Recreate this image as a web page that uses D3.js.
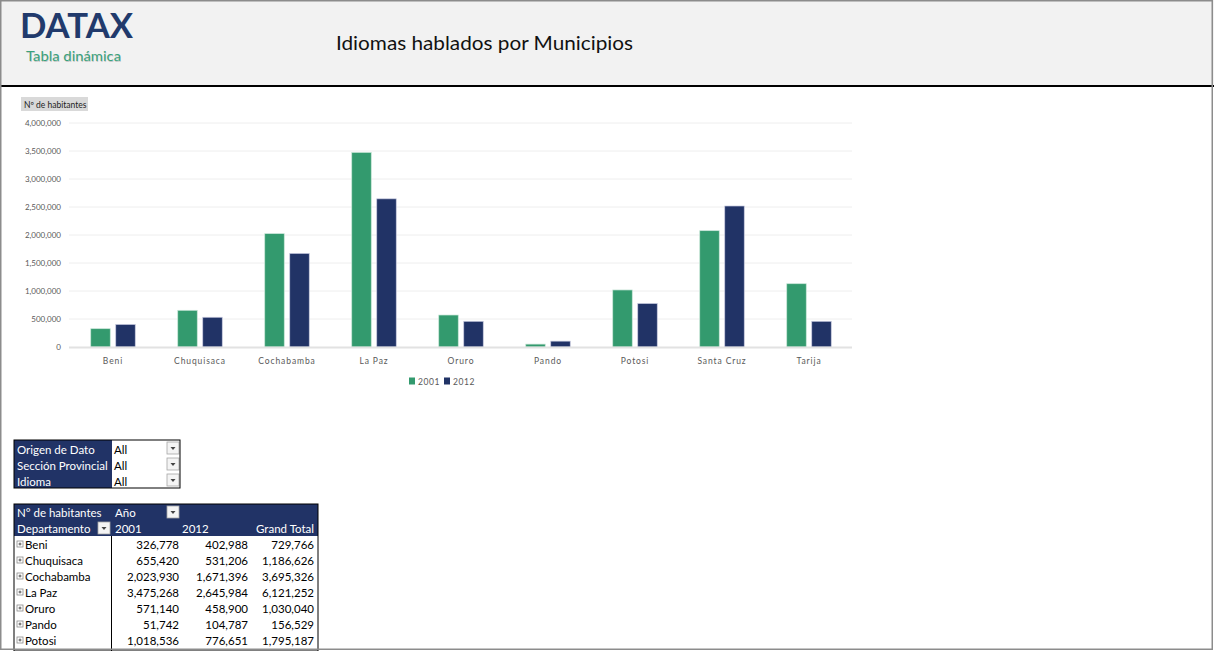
<!DOCTYPE html>
<html>
<head>
<meta charset="utf-8">
<script src="https://cdn.jsdelivr.net/npm/d3@7"></script>
<style>
  html, body { margin: 0; padding: 0; background: #fff; overflow: hidden; }
  svg { display: block; }
</style>
</head>
<body>
<svg id="page" width="1214" height="651"></svg>
<script>
var departamentos = ["Beni", "Chuquisaca", "Cochabamba", "La Paz", "Oruro", "Pando", "Potosi", "Santa Cruz", "Tarija"];
var anios = ["2001", "2012"];
var valores2001 = [326778, 655420, 2023930, 3475268, 571140, 51742, 1018536, 2077000, 1130000];
var valores2012 = [402988, 531206, 1671396, 2645984, 458900, 104787, 776651, 2518000, 459000];
var yTicks = [0, 500000, 1000000, 1500000, 2000000, 2500000, 3000000, 3500000, 4000000];
var filtros = ["Origen de Dato", "Sección Provincial", "Idioma"];

var colores = {"2001": "#339a6e", "2012": "#213366"};
var fmt = d3.format(",");

var svg = d3.select("#page");
var W = 1214, H = 651;

// ---- header band
svg.append("rect").attr("x", 0).attr("y", 0).attr("width", W).attr("height", 86).attr("fill", "#f2f2f2");
svg.append("rect").attr("x", 0).attr("y", 85).attr("width", W).attr("height", 2).attr("fill", "#000");

svg.append("text").attr("x", 20).attr("y", 38)
  .attr("font-family", "Lato").attr("font-weight", 700).attr("font-size", 35)
  .attr("textLength", 113).attr("lengthAdjust", "spacingAndGlyphs")
  .attr("fill", "#213a6c").text("DATAX");
svg.append("text").attr("x", 26).attr("y", 61)
  .attr("font-family", "Lato").attr("font-size", 14)
  .attr("textLength", 95).attr("lengthAdjust", "spacingAndGlyphs")
  .attr("fill", "#3aa27c").style("text-shadow", "0.5px 0.5px 0.5px #c8c8c8").text("Tabla dinámica");
svg.append("text").attr("x", 336).attr("y", 50)
  .attr("font-family", "Lato").attr("font-size", 20)
  .attr("textLength", 297).attr("lengthAdjust", "spacingAndGlyphs")
  .attr("fill", "#111").text("Idiomas hablados por Municipios");

// ---- chart
var chart = svg.append("g");
var x0 = d3.scaleBand().domain(departamentos).range([69.5, 852.5]);
var x1 = d3.scaleBand().domain(anios).range([0, x0.bandwidth()]).paddingInner(0.22).paddingOuter(0.85);
var y = d3.scaleLinear().domain([0, 4000000]).range([347, 123]);

chart.append("rect").attr("x", 21).attr("y", 97).attr("width", 67).attr("height", 14).attr("fill", "#d9d9d9");
chart.append("text").attr("x", 24).attr("y", 107.5)
  .attr("font-family", "Lato").attr("font-size", 8.5).attr("fill", "#222").text("Nº de habitantes");

// grid
chart.append("g").selectAll("line").data(yTicks.slice(1)).join("line")
  .attr("x1", 69).attr("x2", 852).attr("y1", d => y(d)).attr("y2", d => y(d))
  .attr("stroke", "#eeeeee").attr("stroke-width", 1);

// y axis labels
var yAxis = d3.axisLeft(y).tickValues(yTicks).tickFormat(fmt).tickSize(0).tickPadding(0);
chart.append("g").attr("transform", "translate(61,0)").call(yAxis)
  .call(g => g.select(".domain").remove())
  .selectAll("text").attr("font-family", "Lato").attr("font-size", 8).attr("fill", "#595959");

// bars
var rows = departamentos.map((d, i) => ({dep: d, vals: [{k: "2001", v: valores2001[i]}, {k: "2012", v: valores2012[i]}]}));
chart.append("g").selectAll("g").data(rows).join("g")
  .attr("transform", d => "translate(" + x0(d.dep) + ",0)")
  .selectAll("rect").data(d => d.vals).join("rect")
  .attr("x", d => x1(d.k)).attr("width", x1.bandwidth())
  .attr("y", d => y(d.v)).attr("height", d => y(0) - y(d.v))
  .attr("fill", d => colores[d.k])
  .attr("stroke", d => d.k === "2001" ? "#c9e6d8" : "#c8cbe0").attr("stroke-width", 0.7);

// x axis
chart.append("rect").attr("x", 69).attr("y", 346.5).attr("width", 783).attr("height", 2).attr("fill", "#e2e2e2");
var xAxis = d3.axisBottom(x0).tickSize(0).tickPadding(0);
chart.append("g").attr("transform", "translate(0,357.5)").call(xAxis)
  .call(g => g.select(".domain").remove())
  .selectAll("text").attr("font-family", "Lato").attr("font-size", 8.5)
  .attr("letter-spacing", "0.9px").attr("fill", "#595959");

// legend
var leg = chart.append("g").attr("transform", "translate(409,377.5)");
var legItems = leg.selectAll("g").data(anios).join("g").attr("transform", (d, i) => "translate(" + i * 35 + ",0)");
legItems.append("rect").attr("width", 6).attr("height", 7).attr("fill", d => colores[d]);
legItems.append("text").attr("x", 9).attr("y", 7).attr("font-family", "Lato").attr("font-size", 8.5)
  .attr("letter-spacing", "0.6px").attr("fill", "#595959").text(d => d);

// ---- dropdown button helper
function boton(g, x, yy) {
  g.append("rect").attr("x", x).attr("y", yy).attr("width", 12).attr("height", 12)
    .attr("fill", "#f4f4f4").attr("stroke", "#a6a6a6").attr("stroke-width", 0.8);
  g.append("path").attr("d", "M" + (x + 3.5) + "," + (yy + 5) + "h5l-2.5,3z").attr("fill", "#444");
}
function expander(g, x, yy) {
  g.append("rect").attr("x", x).attr("y", yy).attr("width", 6).attr("height", 6)
    .attr("fill", "#fff").attr("stroke", "#8a8a8a").attr("stroke-width", 0.8);
  g.append("path").attr("d", "M" + (x + 1.5) + "," + (yy + 3) + "h3M" + (x + 3) + "," + (yy + 1.5) + "v3")
    .attr("stroke", "#333").attr("stroke-width", 0.8);
}

var tf = "Lato";
// ---- filter box
var fb = svg.append("g");
fb.append("rect").attr("x", 14).attr("y", 440).attr("width", 98).attr("height", 48).attr("fill", "#213366");
fb.selectAll("text.lbl").data(filtros).join("text").attr("class", "lbl")
  .attr("x", 17).attr("y", (d, i) => 453.5 + i * 16)
  .attr("font-family", tf).attr("font-size", 11.5).attr("fill", "#fff").text(d => d);
fb.selectAll("text.all").data(filtros).join("text").attr("class", "all")
  .attr("x", 114).attr("y", (d, i) => 453.5 + i * 16)
  .attr("font-family", tf).attr("font-size", 11.5).attr("fill", "#000").text("All");
filtros.forEach((d, i) => boton(fb, 167, 442 + i * 16));
fb.append("rect").attr("x", 14).attr("y", 440).attr("width", 166).attr("height", 48)
  .attr("fill", "none").attr("stroke", "#000").attr("stroke-width", 1);

// ---- pivot table
var pt = svg.append("g");
var top0 = 504, rh = 16;
pt.append("rect").attr("x", 14).attr("y", top0).attr("width", 304).attr("height", 32).attr("fill", "#213366");
var hdr = [
  {t: "N° de habitantes", x: 17, r: 0, a: "start"},
  {t: "Año", x: 115, r: 0, a: "start"},
  {t: "Departamento", x: 17, r: 1, a: "start"},
  {t: "2001", x: 115, r: 1, a: "start"},
  {t: "2012", x: 182, r: 1, a: "start"},
  {t: "Grand Total", x: 314, r: 1, a: "end"}
];
pt.selectAll("text.h").data(hdr).join("text").attr("class", "h")
  .attr("x", d => d.x).attr("y", d => top0 + 12.5 + d.r * rh).attr("text-anchor", d => d.a)
  .attr("font-family", tf).attr("font-size", 11.5).attr("fill", "#fff").text(d => d.t);
boton(pt, 167, 506);
boton(pt, 98, 522);

// only the rows that fit in the visible window are drawn (as in the reference)
var tabla = departamentos.map((d, i) => [d, valores2001[i], valores2012[i], valores2001[i] + valores2012[i]])
  .filter((d, i) => top0 + 32 + (i + 1) * rh <= H - 2);
var fil = pt.selectAll("g.row").data(tabla).join("g").attr("class", "row")
  .attr("transform", (d, i) => "translate(0," + (top0 + 32 + i * rh) + ")");
fil.each(function () { expander(d3.select(this), 17, 5); });
fil.append("text").attr("x", 25).attr("y", 12.5).attr("font-family", tf).attr("font-size", 11.5)
  .attr("fill", "#000").text(d => d[0]);
var colEnds = [179, 248, 314];
[1, 2, 3].forEach((c, j) => {
  fil.append("text").attr("x", colEnds[j]).attr("y", 12.5).attr("text-anchor", "end")
    .attr("font-family", tf).attr("font-size", 11.5).attr("fill", "#000").text(d => fmt(d[c]));
});
var tH = H - top0;
pt.append("line").attr("x1", 111.5).attr("x2", 111.5).attr("y1", top0 + 32).attr("y2", top0 + tH).attr("stroke", "#000");
pt.append("rect").attr("x", 14).attr("y", top0).attr("width", 304).attr("height", tH)
  .attr("fill", "none").attr("stroke", "#000").attr("stroke-width", 1);

// ---- outer frame
svg.append("rect").attr("x", 0.75).attr("y", 0.75).attr("width", W - 2.5).attr("height", H - 2.5)
  .attr("fill", "none").attr("stroke", "#8c8c8c").attr("stroke-width", 1.5);
</script>
</body>
</html>
